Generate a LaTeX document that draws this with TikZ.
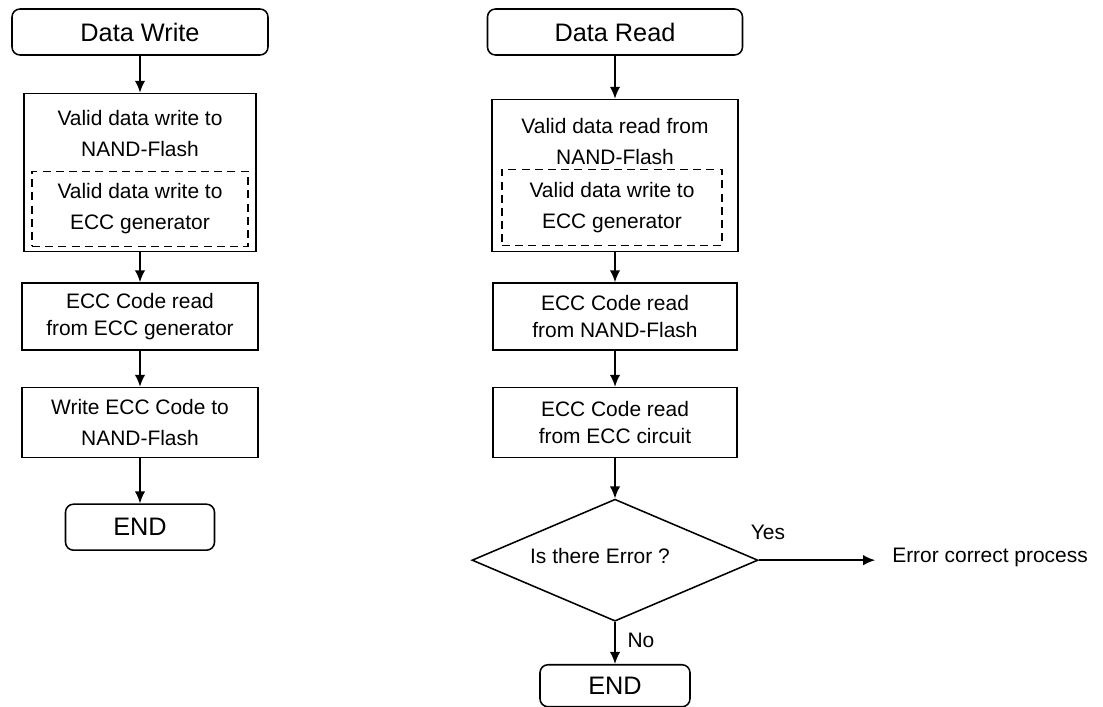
\documentclass[tikz,border=0pt]{standalone}
\usepackage{fontspec}
\setmainfont{Liberation Sans}
\usetikzlibrary{shapes.geometric, arrows.meta, positioning, calc}
\newcommand{\bodyfont}{\fontsize{14.9}{22}\selectfont}
\newcommand{\eccfont}{\fontsize{14.9}{19.5}\selectfont}
\newcommand{\termfont}{\fontsize{18}{20}\selectfont}

\begin{document}
\begin{tikzpicture}[
    node distance=0.9cm,
    termBox/.style={draw, rounded corners=0.2cm, line width=1.1pt, font=\termfont, minimum height=1.15cm, inner sep=0pt},
    procBox/.style={draw, line width=1.1pt, font=\bodyfont, align=center, inner sep=0pt},
    dashBox/.style={draw, line width=1.1pt, dash pattern=on 2mm off 1.3mm, font=\bodyfont, align=center, inner sep=0pt},
    decBox/.style={draw, diamond, line width=1.1pt, minimum width=7.15cm, minimum height=3.05cm, inner sep=0pt},
    txt/.style={font=\bodyfont, align=center, inner sep=0pt},
    arrow/.style={draw, line width=1.2pt, -{Latex[length=3mm, width=2.6mm]}}
]
\useasboundingbox (0,0) rectangle (27.575,-17.675);

% Write flow
\node[termBox, minimum width=6.4cm] (wStart) at (3.5, -0.8) {Data Write};
\node[procBox, minimum width=5.8cm, minimum height=3.95cm, below=0.925cm of wStart] (wBox) {};
\node[txt] (wBoxTxt) at ($(wBox.north)+(0,-1.01)$) {Valid data write to \\ NAND-Flash};
\node[dashBox, minimum width=5.4cm, minimum height=1.875cm] (wGen) at ($(wBox.center)+(0,-0.91)$) {Valid data write to \\ ECC generator};
\node[procBox, font=\eccfont, minimum width=5.9cm, minimum height=1.675cm, below=0.75cm of wBox] (wEcc) {ECC Code read \\ from ECC generator};
\node[procBox, minimum width=5.9cm, minimum height=1.75cm, below=0.9cm of wEcc] (wCode) {Write ECC Code to \\ NAND-Flash};
\node[termBox, minimum width=3.725cm, below=1.125cm of wCode] (wEnd) {END};

\draw[arrow] (wStart) -- (wBox);
\draw[arrow] (wBox) -- (wEcc);
\draw[arrow] (wEcc) -- (wCode);
\draw[arrow] (wCode) -- (wEnd);

% Read flow
\node[termBox, minimum width=6.375cm] (rStart) at (15.375, -0.8) {Data Read};
\node[procBox, minimum width=6.15cm, minimum height=3.8cm, below=1.075cm of rStart] (rBox) {};
\node[txt] (rBoxTxt) at ($(rBox.north)+(0,-1.075)$) {Valid data read from \\ NAND-Flash};
\node[dashBox, minimum width=5.5cm, minimum height=1.9cm] (rGen) at ($(rBox.center)+(-0.075,-0.8)$) {Valid data write to \\ ECC generator};
\node[procBox, font=\eccfont, minimum width=6.1cm, minimum height=1.675cm, below=0.75cm of rBox] (rEcc) {ECC Code read \\ from NAND-Flash};
\node[procBox, font=\eccfont, minimum width=6.1cm, minimum height=1.75cm, below=0.9cm of rEcc] (rCirc) {ECC Code read \\ from ECC circuit};
\node[decBox, below=1.0cm of rCirc] (rDec) {};
\node[txt] (rDecTxt) at ($(rDec.center)+(-0.375,0.1)$) {Is there Error ?};
\node[termBox, minimum width=3.75cm, minimum height=1.05cm, below=1.05cm of rDec] (rEnd) {END};
\node[txt, anchor=west] (errTxt) at (22.3, -13.93) {Error correct process};
\node[txt] (yesTxt) at (19.2, -13.3) {Yes};
\node[txt] (noTxt) at (16.025, -16.0) {No};

\draw[arrow] (rStart) -- (rBox);
\draw[arrow] (rBox) -- (rEcc);
\draw[arrow] (rEcc) -- (rCirc);
\draw[arrow] (rCirc) -- (rDec);
\draw[arrow] (rDec) -- (rEnd);
\draw[arrow, shorten >=0.42cm] (rDec.east) -- (rDec.east -| errTxt.west);

\end{tikzpicture}
\end{document}
